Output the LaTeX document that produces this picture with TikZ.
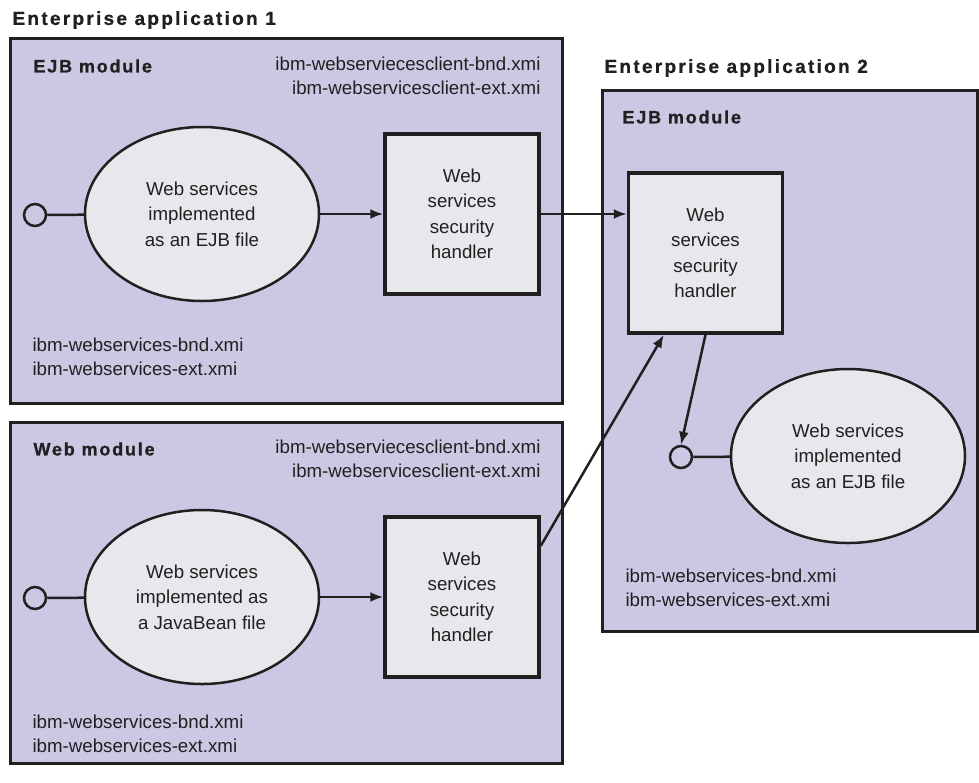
\documentclass[tikz,border=0pt]{standalone}
\usepackage{fontspec}
\setmainfont{Liberation Sans}
\newfontfamily\headfont{Liberation Sans}[LetterSpace=12, FakeBold=0.8]
\newfontfamily\modfont{Liberation Sans}[LetterSpace=10, FakeBold=0.8]
\usetikzlibrary{arrows.meta, shapes.geometric, calc}

\definecolor{inkgray}{HTML}{231F20}
\definecolor{modfill}{HTML}{CCC7E3}
\definecolor{partfill}{HTML}{E6E8EC}

\begin{document}
\begin{tikzpicture}[
		x=1pt, y=-1pt, % pixel-like coordinates, y pointing down
		>={Latex[length=13pt,width=10pt]},
		every node/.style={text=inkgray, font=\fontsize{18.7}{25.5}\selectfont},
		module/.style={draw=inkgray, fill=modfill, line width=3pt},
		heading/.style={anchor=west, font=\headfont\bfseries\fontsize{19}{22}\selectfont},
		modlabel/.style={anchor=west, font=\modfont\bfseries\fontsize{18}{22}\selectfont},
		service/.style={ellipse, draw=inkgray, fill=partfill, line width=2.5pt,
			minimum width=234pt, minimum height=174pt, inner sep=0pt, align=center},
		handler/.style={rectangle, draw=inkgray, fill=partfill, line width=3.5pt,
			minimum width=154pt, minimum height=160pt, inner sep=0pt, align=center},
		port/.style={circle, draw=inkgray, line width=2.5pt, minimum size=22pt, inner sep=0pt},
		xmi/.style={font=\fontsize{18.7}{24}\selectfont},
		link/.style={draw=inkgray, line width=2.5pt}
		]
		
		\useasboundingbox (0,0) rectangle (979,782);
		
		% --- 1. Module boxes ---
		\draw[module] (10,38) rectangle (562,403);   % EJB module, application 1
		\draw[module] (10,422) rectangle (562,763);  % Web module, application 1
		\draw[module] (602,90) rectangle (977,631);  % EJB module, application 2
		
		% --- 2. Headings ---
		\node[heading] (app1) at (9,20) {Enterprise application 1};
		\node[heading] (app2) at (601,68) {Enterprise application 2};
		\node[modlabel] (ejb1) at (30,66) {EJB module};
		\node[modlabel] (web1) at (30,449) {Web module};
		\node[modlabel] (ejb2) at (619,117) {EJB module};
		
		% --- 3. Deployment descriptors ---
		\node[xmi, anchor=east, align=right] (cli1) at (544,76)
		{ibm-webserviecesclient-bnd.xmi\\ibm-webservicesclient-ext.xmi};
		\node[xmi, anchor=west, align=left] (ws1) at (29,357)
		{ibm-webservices-bnd.xmi\\ibm-webservices-ext.xmi};
		\node[xmi, anchor=east, align=right] (cli2) at (544,459)
		{ibm-webserviecesclient-bnd.xmi\\ibm-webservicesclient-ext.xmi};
		\node[xmi, anchor=west, align=left] (ws2) at (29,734)
		{ibm-webservices-bnd.xmi\\ibm-webservices-ext.xmi};
		\node[xmi, anchor=west, align=left] (ws3) at (622,588)
		{ibm-webservices-bnd.xmi\\ibm-webservices-ext.xmi};
		
		% --- 4. Services, handlers and ports ---
		\node[service] (ejbsvc1) at (202,214) {Web services\\implemented\\as an EJB file};
		\node[port] (port1) at (35,215) {};
		\node[handler] (hdl1) at (462,214) {Web\\services\\security\\handler};
		
		\node[service] (beansvc) at (202,597) {Web services\\implemented as\\a JavaBean file};
		\node[port] (port2) at (35,598) {};
		\node[handler] (hdl2) at (462,597) {Web\\services\\security\\handler};
		
		\node[handler] (hdl3) at (705.5,253) {Web\\services\\security\\handler};
		\node[service] (ejbsvc2) at (848,456) {Web services\\implemented\\as an EJB file};
		\node[port] (port3) at (681,457) {};
		
		% --- 5. Connectors ---
		\draw[link] (port1) -- (ejbsvc1);
		\draw[link, ->] (ejbsvc1) -- (hdl1);
		\draw[link, ->] (hdl1.east) -- (hdl1.east -| hdl3.west);
		
		\draw[link] (port2) -- (beansvc);
		\draw[link, ->] (beansvc) -- (hdl2);
		\draw[link, ->] (hdl2.33) -- (hdl3.243);
		
		\draw[link, ->] (hdl3.south) -- (port3.north);
		\draw[link] (port3) -- (ejbsvc2);
		
	\end{tikzpicture}
\end{document}
